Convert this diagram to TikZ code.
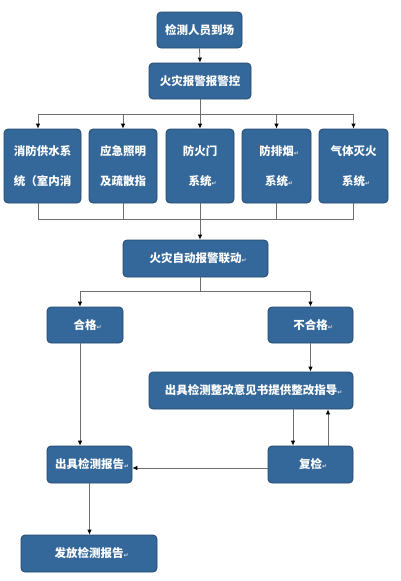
\documentclass[tikz,border=0pt]{standalone}
\usepackage{fontspec}
\newfontfamily\cjk{Noto Sans CJK SC}
\newfontfamily\symf{DejaVu Sans}
\usetikzlibrary{arrows.meta}
\definecolor{boxfill}{HTML}{35689A}
\definecolor{boxline}{HTML}{23476C}
\definecolor{connc}{HTML}{6E6E6E}
\newcommand{\parmark}{\makebox[0pt][l]{\symf\fontsize{6}{6}\selectfont\textcolor{white!75!gray}{↵}}}
\begin{document}
\begin{tikzpicture}[x=1pt,y=-1pt,
  box/.style={draw=boxline, line width=0.8pt, fill=boxfill, rounded corners=4pt,
    text=white, font=\cjk\bfseries\fontsize{11.5}{30}\selectfont, align=center, inner sep=0pt},
  conn/.style={draw=connc, line width=0.8pt},
  arr/.style={conn, -{Latex[length=5pt,width=4.5pt,color=black]}}]
\useasboundingbox[fill=white] (0,0) rectangle (400,581);

\node[box, minimum width=85pt, minimum height=36pt] (n1) at (199.5,30) {检测人员到场};
\node[box, minimum width=102pt, minimum height=36pt] (n2) at (200,81) {火灾报警报警控};

\node[box, minimum width=77pt, minimum height=74pt] (r1) at (42.5,166) {消防供水系\\统（室内消};
\node[box, minimum width=68pt, minimum height=74pt] (r2) at (123,166) {应急照明\\及疏散指};
\node[box, minimum width=68pt, minimum height=74pt] (r3) at (200,166) {防火门\\系统\parmark};
\node[box, minimum width=69pt, minimum height=74pt] (r4) at (276.5,166) {防排烟\parmark\\系统\parmark};
\node[box, minimum width=69pt, minimum height=74pt] (r5) at (353.5,166) {气体灭火\\系统\parmark};

\node[box, minimum width=145pt, minimum height=37pt] (n6) at (195.5,258.5) {火灾自动报警联动\parmark};
\node[box, minimum width=76pt, minimum height=36pt] (ok) at (85,325) {合格\parmark};
\node[box, minimum width=85pt, minimum height=36pt] (nok) at (310.5,325) {不合格\parmark};
\node[box, minimum width=204pt, minimum height=37pt] (fix) at (251,390.5) {出具检测整改意见书提供整改指导\parmark};
\node[box, minimum width=85pt, minimum height=37pt] (rep) at (89.5,464.5) {出具检测报告\parmark};
\node[box, minimum width=85pt, minimum height=37pt] (re) at (310.5,464.5) {复检\parmark};
\node[box, minimum width=136pt, minimum height=37pt] (send) at (89,553.5) {发放检测报告\parmark};

% top
\draw[arr] (n1.south) -- (n2.north);
\coordinate (busT) at (200,114);
\draw[conn] (n2.south) -- (busT);
\draw[arr] (busT) -| ([xshift=-4.5pt]r1.north);
\draw[arr] (busT) -| (r2.north);
\draw[arr] (busT) -- (r3.north);
\draw[arr] (busT) -| (r4.north);
\draw[arr] (busT) -| (r5.north);

% bottom bus
\coordinate (busB) at (200,219);
\draw[conn] ([xshift=-4.5pt]r1.south) |- (busB);
\draw[conn] (r2.south) |- (busB);
\draw[conn] (r4.south) |- (busB);
\draw[conn] (r5.south) |- (busB);
\draw[arr] (r3.south) -- (r3.south |- n6.north);

% split
\coordinate (busS) at (200,291);
\draw[conn] (n6.south -| busS) -- (busS);
\draw[arr] (busS) -| ([xshift=-5pt]ok.north);
\draw[arr] (busS) -| (nok.north);

\draw[arr] (nok.south) -- (nok.south |- fix.north);
\draw[arr] ([xshift=-17.5pt]re.north |- fix.south) -- ([xshift=-17.5pt]re.north);
\draw[arr] ([xshift=17.5pt]re.north) -- ([xshift=17.5pt]re.north |- fix.south);
\draw[arr] ([xshift=-5pt]ok.south) -- ([xshift=-5pt]ok.south |- rep.north);
\draw[arr] (re.west |- 0,468) -- (rep.east |- 0,468);
\draw[arr] (rep.south) -- (rep.south |- send.north);
\end{tikzpicture}
\end{document}
